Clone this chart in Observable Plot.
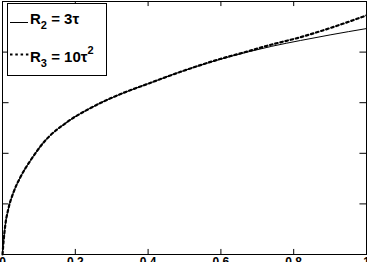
<!DOCTYPE html>
<html>
<head>
<meta charset="utf-8">
<script src="https://cdn.jsdelivr.net/npm/d3@7"></script>
<script src="https://cdn.jsdelivr.net/npm/@observablehq/plot@0.6"></script>
<style>
  html, body { margin: 0; padding: 0; background: #fff; overflow: hidden; }
  #wrap { position: relative; width: 367px; height: 262px; }
  #legend { position: absolute; left: 0; top: 0; }
</style>
</head>
<body>
<div id="wrap"></div>
<script>
const tau = [0, 0.003, 0.008, 0.016, 0.030, 0.049, 0.077, 0.113, 0.179, 0.242, 0.324, 0.4, 0.489, 0.58, 0.681, 0.74, 0.819, 0.9, 1];
const R2  = [0, 0.053, 0.12, 0.18, 0.245, 0.305, 0.372, 0.443, 0.525, 0.579, 0.634, 0.675, 0.722, 0.764, 0.803, 0.823, 0.846, 0.868, 0.893];
const R3  = [0, 0.053, 0.12, 0.18, 0.245, 0.305, 0.372, 0.443, 0.525, 0.579, 0.634, 0.675, 0.722, 0.765, 0.806, 0.83, 0.859, 0.895, 0.945];
const xTicks = [0, 0.2, 0.4, 0.6, 0.8, 1];
const xTickLabels = ["0", "0.2", "0.4", "0.6", "0.8", "1"];
const yTicks = [0, 0.2, 0.4, 0.6, 0.8, 1];

const rows2 = tau.map((t, i) => ({t, v: R2[i]}));
const rows3 = tau.map((t, i) => ({t, v: R3[i]}));
const tickLen = 0.018; // inward tick length, in x units
const tickLenY = 0.02;

const chart = Plot.plot({
  width: 367,
  height: 262,
  marginLeft: 2,
  marginRight: 1,
  marginTop: 1,
  marginBottom: 8,
  style: {fontFamily: "Liberation Sans, Arial, sans-serif", background: "#fff"},
  x: {domain: [0, 1], label: null},
  y: {domain: [0, 1], label: null, axis: null},
  marks: [
    Plot.frame({stroke: "#000", strokeWidth: 1}),
    Plot.ruleX(xTicks, {x: d => d, y1: 0, y2: tickLenY, stroke: "#000"}),
    Plot.ruleX(xTicks, {x: d => d, y1: 1 - tickLenY, y2: 1, stroke: "#000"}),
    Plot.ruleY(yTicks, {y: d => d, x1: 0, x2: tickLen, stroke: "#000"}),
    Plot.ruleY(yTicks, {y: d => d, x1: 1 - tickLen, x2: 1, stroke: "#000"}),
    Plot.axisX({
      ticks: xTicks, tickFormat: (d, i) => xTickLabels[i], tickSize: 0, tickPadding: 3,
      fontSize: 12, fontWeight: "bold", fill: "#000", label: null
    }),
    Plot.line(rows2, {x: "t", y: "v", stroke: "#000", strokeWidth: 1, curve: "monotone-x"}),
    Plot.line(rows3, {x: "t", y: "v", stroke: "#000", strokeWidth: 2.2, strokeDasharray: "2.5,2.8", curve: "monotone-x"})
  ]
});
document.getElementById("wrap").appendChild(chart);

// Legend overlay
const lg = d3.select("#wrap").append("svg")
  .attr("id", "legend").attr("width", 367).attr("height", 262)
  .style("font-family", "Liberation Sans, Arial, sans-serif")
  .style("font-weight", "bold");
lg.append("rect").attr("x", 7.5).attr("y", 3.5).attr("width", 99).attr("height", 72)
  .attr("fill", "#fff").attr("stroke", "#000").attr("stroke-width", 1);
lg.append("line").attr("x1", 10).attr("x2", 28).attr("y1", 22.5).attr("y2", 22.5)
  .attr("stroke", "#000").attr("stroke-width", 1);
lg.append("line").attr("x1", 10).attr("x2", 29).attr("y1", 54.5).attr("y2", 54.5)
  .attr("stroke", "#000").attr("stroke-width", 2.2).attr("stroke-dasharray", "2.5,2.8");
const t1 = lg.append("text").attr("x", 30).attr("y", 24).attr("font-size", 15);
t1.append("tspan").text("R");
t1.append("tspan").attr("font-size", 11).attr("dy", 5).text("2");
t1.append("tspan").attr("dy", -5).text(" = 3τ");
const t2 = lg.append("text").attr("x", 30).attr("y", 62).attr("font-size", 15);
t2.append("tspan").text("R");
t2.append("tspan").attr("font-size", 11).attr("dy", 5).text("3");
t2.append("tspan").attr("dy", -5).text(" = 10τ");
t2.append("tspan").attr("font-size", 11).attr("dy", -8).text("2");
</script>
</body>
</html>
